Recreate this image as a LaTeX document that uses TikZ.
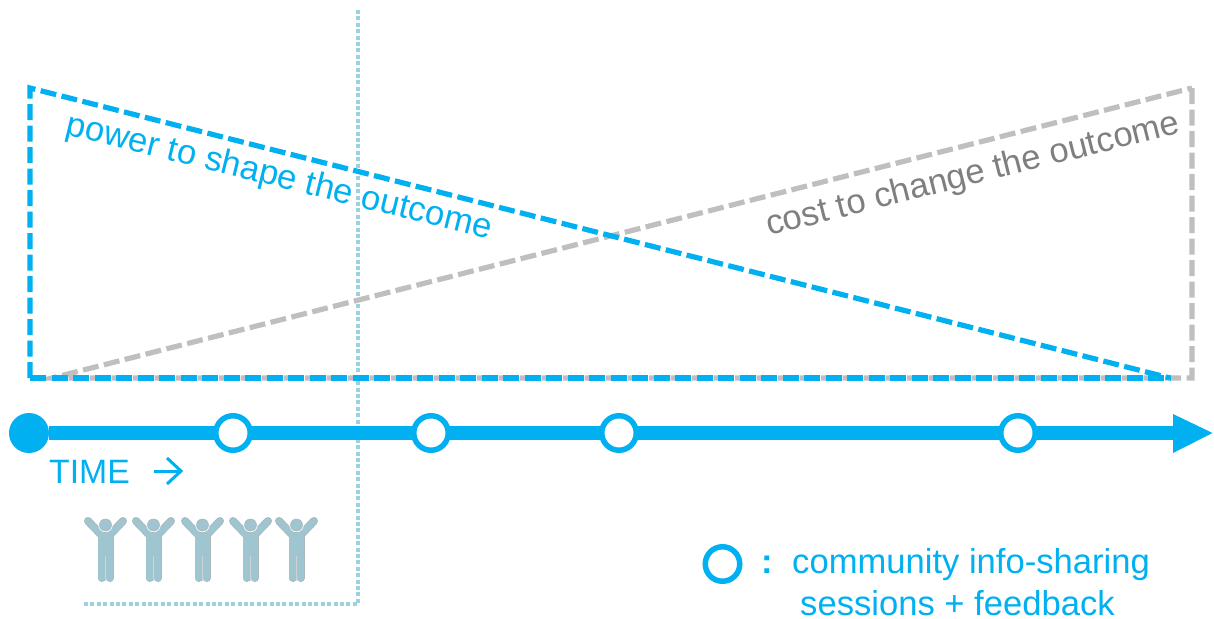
\documentclass[tikz,border=0pt]{standalone}
\usepackage{fontspec}
\setmainfont{Liberation Sans}
\definecolor{cblue}{HTML}{00B0F0}
\definecolor{cgray}{HTML}{BFBFBF}
\definecolor{ctext}{HTML}{7F7F7F}
\definecolor{cdot}{HTML}{9BD2E0}
\definecolor{cman}{HTML}{9FC5D1}
\definecolor{cmanl}{HTML}{ABB8BC}
\tikzset{
  bluedash/.style={draw=cblue,line width=5.2pt,dash pattern=on 16pt off 5.5pt,line join=miter},
  graydash/.style={draw=cgray,line width=5.2pt,dash pattern=on 16pt off 5.5pt,line join=miter},
  dotline/.style={draw=cdot,line width=4pt,dash pattern=on 4pt off 2.4pt},
  session/.style={circle,draw=cblue,line width=5.5pt,fill=white,minimum size=34.5pt,inner sep=0pt},
  startdot/.style={circle,fill=cblue,minimum size=40pt,inner sep=0pt},
  axisline/.style={draw=cblue,line width=14pt},
  bluetext/.style={text=cblue,font=\fontsize{34.6pt}{38pt}\selectfont},
  graytext/.style={text=ctext,font=\fontsize{34.6pt}{38pt}\selectfont},
  person/.pic={
    \draw[cmanl,line width=8pt,line cap=round,line join=round] (-17.5,-7)--(-5,6) (17.5,-7)--(5,6);
    \draw[cmanl,line width=16pt,line cap=butt] (0,4)--(0,30);
    \draw[cmanl,line width=8pt,line cap=round] (-4,28)--(-4,50) (4,28)--(4,50);
    \draw[cman,line width=6.2pt,line cap=round,line join=round] (-17.5,-7)--(-5,6) (17.5,-7)--(5,6);
    \draw[cman,line width=14.4pt,line cap=butt] (0,5)--(0,29);
    \draw[cman,line width=6.4pt,line cap=round] (-4,27)--(-4,50) (4,27)--(4,50);
    \draw[cmanl!60!white,line width=1.4pt] (0,28)--(0,53);
    \fill[white] (0,-3) circle (7.2);
    \fill[cman,draw=cmanl,line width=.6pt] (0,-3) circle (6);
  }
}
\begin{document}
\begin{tikzpicture}[x=1pt,y=-1pt]
\useasboundingbox (0,0) rectangle (1214,618);
% dotted bracket
\coordinate (dtop) at (358,10);
\coordinate (dcorner) at (358,604);
\coordinate (dleft) at (82,604);
\draw[dotline] (dtop) -- (dcorner) -- (dleft);
% triangles
\coordinate (gtr) at (1192,88);
\coordinate (gbr) at (1192,378);
\coordinate (gbl) at (52,378);
\draw[graydash] (gtr) -- (gbr) -- (gbl) -- cycle;
\coordinate (btl) at (30,88);
\coordinate (bbl) at (30,378);
\coordinate (bbr) at (1170,378);
\draw[bluedash] (bbl) -- (btl) -- (bbr);
\draw[bluedash] (bbl) -- (bbr);
% labels on triangles
\node[bluetext,rotate=-13.9,anchor=center] (power) at (279,178) {power to shape the outcome};
\node[graytext,rotate=14.1,anchor=center] (cost) at (973,175.5) {cost to change the outcome};
% timeline
\node[startdot] (start) at (29,433) {};
\coordinate (axisend) at (1176,433);
\draw[axisline] (start) -- (axisend);
\fill[cblue] (1173,414) -- (1212.5,433) -- (1173,453) -- cycle;
\node[session] (s1) at (233,433) {};
\node[session] (s2) at (431,433) {};
\node[session] (s3) at (619,433) {};
\node[session] (s4) at (1018,433) {};
% time label
\node[text=cblue,font=\fontsize{33.8pt}{38pt}\selectfont,anchor=base west,inner sep=0pt] (time) at (49,483) {TIME};
\coordinate (ta) at (154,471);
\coordinate (tb) at (181,471);
\coordinate (tc) at (167,458);
\coordinate (td) at (167,484);
\draw[cblue,line width=3pt] (ta) -- (tb);
\draw[cblue,line width=3pt] (tc) -- (tb) -- (td);
% people
\pic at (105.5,528) {person};
\pic at (153.5,528) {person};
\pic at (202.5,528) {person};
\pic at (250.5,528) {person};
\pic at (296.5,528) {person};
% legend
\node[session] (legend) at (722.5,564) {};
\node[text=cblue,font=\fontsize{34.6pt}{38pt}\bfseries\selectfont,anchor=base,inner sep=0pt] (colon) at (767,573) {:};
\node[bluetext,anchor=base west,inner sep=0pt] (l1) at (792,573) {community info-sharing};
\node[bluetext,anchor=base west,inner sep=0pt] (l2) at (800,615) {sessions + feedback};
\end{tikzpicture}
\end{document}
